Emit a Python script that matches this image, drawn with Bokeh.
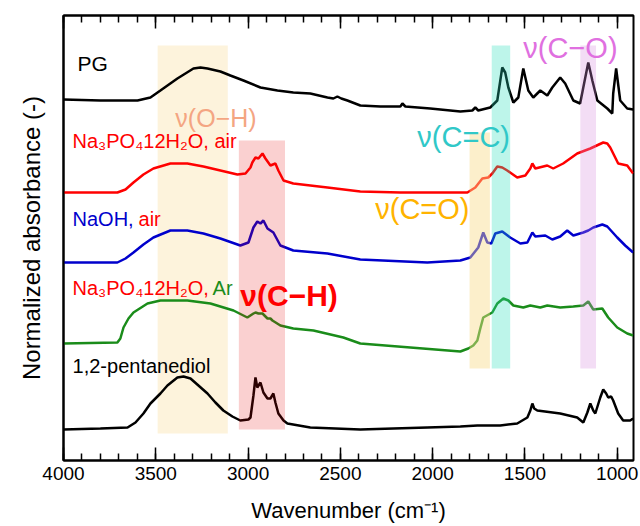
from bokeh.plotting import figure
from bokeh.models import Range1d, LinearAxis, FixedTicker
from bokeh.core.properties import value
from bokeh.embed import file_html
from bokeh.resources import INLINE

FONT = "Liberation Sans"

# ---------------- data (wavenumber in cm-1, normalized absorbance with offsets) ----------------
pg_wn = [4000, 3800, 3599, 3529, 3475, 3383, 3296, 3258, 3220, 3150, 3096, 3025, 2933, 2841, 2755,
         2663, 2570, 2538, 2516, 2495, 2462, 2392, 2283, 2175, 2164, 2148, 2013, 1850, 1785, 1769,
         1753, 1688, 1650, 1623, 1607, 1590, 1563, 1536, 1509, 1482, 1455, 1417, 1379, 1352, 1309,
         1282, 1238, 1201, 1184, 1157, 1135, 1108, 1054, 1027, 1022, 1006, 984, 946, 914]
pg_ab = [3.61, 3.60, 3.60, 3.63, 3.70, 3.82, 3.92, 3.93, 3.92, 3.89, 3.85, 3.80, 3.73, 3.70, 3.68,
         3.67, 3.63, 3.62, 3.64, 3.62, 3.60, 3.55, 3.54, 3.54, 3.57, 3.54, 3.52, 3.49, 3.50, 3.53,
         3.50, 3.53, 3.60, 3.93, 3.88, 3.73, 3.58, 3.63, 3.92, 3.70, 3.63, 3.70, 3.65, 3.73, 3.83,
         3.77, 3.60, 3.57, 3.73, 3.98, 3.80, 3.60, 3.52, 3.47, 3.67, 3.92, 3.60, 3.52, 3.51]

air_wn = [4000, 3708, 3664, 3621, 3567, 3513, 3421, 3329, 3242, 3150, 3058, 3014, 2987, 2977, 2960,
          2944, 2922, 2906, 2879, 2852, 2836, 2808, 2755, 2570, 2392, 2175, 1812, 1769, 1731, 1699,
          1677, 1650, 1623, 1596, 1542, 1498, 1471, 1460, 1444, 1379, 1347, 1293, 1217, 1146, 1076,
          1054, 1038, 995, 946, 914]
air_ab = [2.68, 2.68, 2.71, 2.78, 2.86, 2.92, 2.97, 2.97, 2.94, 2.90, 2.86, 2.87, 2.93, 2.98, 3.03,
          3.02, 3.07, 3.02, 2.95, 2.97, 2.90, 2.80, 2.77, 2.73, 2.69, 2.68, 2.68, 2.73, 2.82, 2.83,
          2.87, 2.94, 2.93, 2.90, 2.83, 2.85, 2.92, 2.97, 2.92, 2.95, 2.92, 2.97, 3.07, 3.12, 3.18,
          3.17, 3.13, 2.97, 2.95, 2.87]

naoh_wn = [4000, 3708, 3664, 3621, 3567, 3513, 3421, 3329, 3242, 3150, 3042, 2998, 2971, 2950, 2933,
           2917, 2895, 2863, 2825, 2755, 2570, 2392, 2029, 1850, 1796, 1753, 1726, 1704, 1682, 1661,
           1623, 1580, 1525, 1487, 1460, 1444, 1390, 1352, 1309, 1271, 1238, 1184, 1157, 1130, 1081,
           1054, 1000, 957, 914]
naoh_ab = [1.98, 1.98, 2.02, 2.08, 2.16, 2.23, 2.30, 2.30, 2.27, 2.22, 2.15, 2.18, 2.33, 2.39, 2.37,
           2.40, 2.32, 2.28, 2.15, 2.10, 2.07, 2.01, 1.98, 2.00, 2.03, 2.13, 2.28, 2.18, 2.17, 2.27,
           2.29, 2.23, 2.17, 2.18, 2.28, 2.24, 2.25, 2.21, 2.24, 2.30, 2.25, 2.28, 2.30, 2.33, 2.36,
           2.34, 2.23, 2.15, 2.08]

ar_wn = [4000, 3708, 3692, 3675, 3648, 3621, 3545, 3475, 3329, 3204, 3079, 3004, 2971, 2960, 2944,
         2922, 2895, 2879, 2868, 2825, 2755, 2646, 2484, 2392, 2121, 1850, 1807, 1780, 1758, 1742,
         1726, 1677, 1650, 1617, 1590, 1563, 1509, 1471, 1417, 1379, 1309, 1238, 1184, 1157, 1130,
         1081, 1049, 1000, 946, 914]
ar_ab = [1.17, 1.18, 1.22, 1.33, 1.42, 1.48, 1.57, 1.60, 1.60, 1.57, 1.50, 1.43, 1.47, 1.48, 1.47,
         1.47, 1.42, 1.42, 1.40, 1.35, 1.32, 1.30, 1.23, 1.17, 1.13, 1.09, 1.12, 1.15, 1.20, 1.32,
         1.43, 1.48, 1.57, 1.62, 1.60, 1.55, 1.53, 1.55, 1.53, 1.55, 1.53, 1.54, 1.55, 1.59, 1.51,
         1.52, 1.43, 1.33, 1.27, 1.25]

pd_wn = [4000, 3800, 3653, 3610, 3567, 3529, 3475, 3437, 3383, 3350, 3312, 3269, 3220, 3177, 3134,
         3085, 3042, 2998, 2987, 2971, 2960, 2950, 2933, 2917, 2895, 2879, 2863, 2852, 2836, 2808,
         2787, 2663, 2392, 2213, 2029, 1850, 1758, 1634, 1542, 1487, 1471, 1460, 1450, 1433, 1309,
         1217, 1184, 1162, 1146, 1130, 1119, 1092, 1076, 1060, 1049, 1033, 1022, 995, 968, 930, 914]
pd_ab = [0.31, 0.32, 0.33, 0.38, 0.47, 0.57, 0.67, 0.75, 0.83, 0.84, 0.82, 0.75, 0.67, 0.58, 0.50,
         0.44, 0.40, 0.41, 0.43, 0.65, 0.83, 0.73, 0.78, 0.68, 0.62, 0.62, 0.67, 0.58, 0.47, 0.40,
         0.37, 0.33, 0.31, 0.32, 0.33, 0.34, 0.35, 0.35, 0.37, 0.43, 0.50, 0.57, 0.52, 0.50, 0.47,
         0.43, 0.38, 0.48, 0.57, 0.50, 0.47, 0.63, 0.71, 0.67, 0.63, 0.64, 0.60, 0.47, 0.40, 0.40, 0.42]

# vibration bands: (high wavenumber, low wavenumber, bottom, top)
oh_band = dict(hi=3490, lo=3110, bottom=0.27, top=4.15)
band_names = ["C-H", "C=O", "C=C", "C-O"]
band_hi = [3050, 1800, 1680, 1200]
band_lo = [2800, 1690, 1580, 1115]
band_bottom = [0.31, 0.92, 0.92, 0.92]
band_top = [3.20, 3.28, 4.15, 4.15]
band_colors = ["#e40505", "#f9dc8c", "#26deb9", "#d78ede"]
band_alpha = [0.19, 0.45, 0.30, 0.30]

x_ticks = [4000, 3500, 3000, 2500, 2000, 1500, 1000]
x_minor = list(range(1000, 4001, 100))

# ---------------- figure ----------------
p = figure(width=640, height=526, output_backend="svg", toolbar_location=None,
           x_range=Range1d(4000, 912), y_range=Range1d(0, 4.45),
           min_border_left=63, min_border_right=7, min_border_top=15, min_border_bottom=66,
           background_fill_color="white", border_fill_color="white")
p.grid.visible = False
p.outline_line_color = "black"
p.outline_line_width = 2
p.outline_line_alpha = 1

xa = p.xaxis[0]
xa.ticker = FixedTicker(ticks=x_ticks, minor_ticks=x_minor)
xa.major_tick_in = 13
xa.major_tick_out = 0
xa.minor_tick_in = 7
xa.minor_tick_out = 0
xa.major_tick_line_width = 1.5
xa.minor_tick_line_width = 1.5
xa.axis_line_width = 2
xa.major_label_text_font = FONT
xa.major_label_text_font_size = "19px"
xa.major_label_text_color = "black"
xa.major_label_standoff = 6
xa.axis_label = "Wavenumber (cm\u207b\u00b9)"
xa.axis_label_text_font = FONT
xa.axis_label_text_font_size = "22px"
xa.axis_label_text_font_style = "normal"
xa.axis_label_text_color = "black"
xa.axis_label_standoff = 15

top = LinearAxis(ticker=FixedTicker(ticks=x_ticks, minor_ticks=x_minor),
                 major_tick_in=13, major_tick_out=0, minor_tick_in=7, minor_tick_out=0,
                 major_tick_line_width=1.5, minor_tick_line_width=1.5, axis_line_width=2,
                 major_label_text_font_size="0px", major_label_text_color=None,
                 major_label_standoff=0)
p.add_layout(top, "above")

ya = p.yaxis[0]
ya.ticker = FixedTicker(ticks=[])
ya.axis_line_width = 2
ya.axis_label = "Normalized absorbance (-)"
ya.axis_label_text_font = FONT
ya.axis_label_text_font_size = "24px"
ya.axis_label_text_font_style = "normal"
ya.axis_label_text_color = "black"
ya.axis_label_standoff = 19
ya.major_label_text_font_size = "0px"

# ---------------- O-H band (behind the spectra) ----------------
p.quad(left=[oh_band["hi"]], right=[oh_band["lo"]], bottom=[oh_band["bottom"]], top=[oh_band["top"]],
       fill_color="#fdf3dc", line_color=None)

# ---------------- spectra ----------------
LW = 2.5
p.line(pg_wn, pg_ab, line_color="black", line_width=LW)
p.line(air_wn, air_ab, line_color="#ff0000", line_width=LW)
p.line(naoh_wn, naoh_ab, line_color="#0000cc", line_width=LW)
p.line(ar_wn, ar_ab, line_color="#1a8c1a", line_width=LW)
p.line(pd_wn, pd_ab, line_color="black", line_width=LW)

# ---------------- other bands (semi-transparent, over the spectra) ----------------
p.quad(left=band_hi, right=band_lo, bottom=band_bottom, top=band_top,
       fill_color=band_colors, fill_alpha=band_alpha, line_color=None)

# ---------------- annotations ----------------
def txt(x, y, s, color, size, style="normal", dx=0):
    p.text(x=[x], y=[y], text=[s], text_color=color, text_font=value(FONT),
           text_font_size=size, text_font_style=style, text_align="left",
           text_baseline="middle", x_offset=dx)

txt(3924, 3.97, "PG", "black", "21px")
txt(3394, 3.43, "\u03bd(O\u2212H)", "#f4a582", "25px")
txt(3951, 3.20, "Na\u2083PO\u208412H\u2082O, air", "#ff0000", "20px")
txt(3951, 2.42, "NaOH,", "#0000cc", "20px")
txt(3951, 2.42, "air", "#ff0000", "20px", dx=66)
txt(3951, 1.73, "Na\u2083PO\u208412H\u2082O,", "#ff0000", "20px")
txt(3951, 1.73, "Ar", "#1a8c1a", "20px", dx=140)
txt(3951, 0.95, "1,2-pentanediol", "black", "20px")
txt(3042, 1.65, "\u03bd(C\u2212H)", "#ff0000", "30px", style="bold")
txt(2311, 2.52, "\u03bd(C=O)", "#ffb300", "29px")
txt(2083, 3.24, "\u03bd(C=C)", "#30c8c8", "29px")
txt(1509, 4.13, "\u03bd(C\u2212O)", "#e070e0", "29px")

open("out.html", "w").write(file_html(p, INLINE))
